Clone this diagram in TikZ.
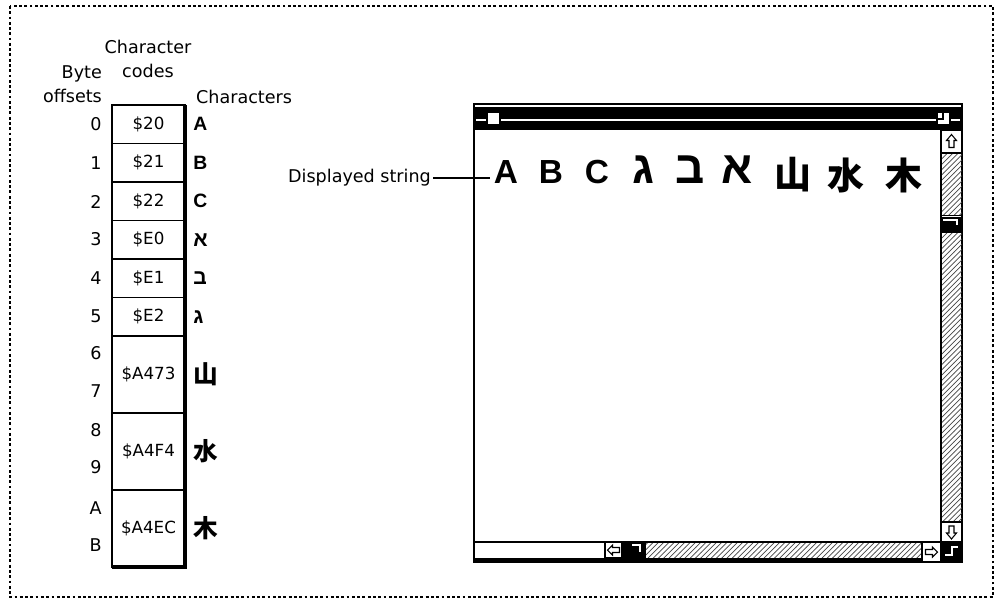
\documentclass[tikz,border=0pt]{standalone}
\usepackage{fontspec}
\setmainfont{DejaVu Sans}
\newfontfamily\bigfont{Liberation Sans}
\newfontfamily\hebfont[Script=Hebrew]{Liberation Sans}
\newfontfamily\cjkfont{Noto Sans CJK TC}
\usetikzlibrary{patterns,positioning}
\tikzset{lab/.style={font=\fontsize{10}{13.6}\selectfont, inner sep=1pt}, codelab/.style={font=\fontsize{9.5}{10}\selectfont, inner sep=0pt}, offlab/.style={font=\fontsize{10}{11}\selectfont, anchor=east, inner sep=0pt}, glyph/.style={font=\bigfont\bfseries\fontsize{11}{12}\selectfont, anchor=west, inner sep=0pt}, shown/.style={font=\bigfont\bfseries\fontsize{19}{20}\selectfont, inner sep=0pt}, hatch/.style={pattern=north east lines, pattern color=gray!55!black}, winline/.style={line width=1.1pt}, boxline/.style={line width=0.7pt, fill=white}}

\begin{document}
\begin{tikzpicture}[x=0.02cm, y=-0.02cm]
\useasboundingbox (0,0) rectangle (995,600);
\draw[dashed, dash pattern=on 1.6pt off 1.4pt, line width=0.6pt] (10,6) rectangle (993,597);
% headers
\node[lab, align=center] (codehead) at (148,59) {Character\\codes};
\node[lab, align=right, anchor=east] (offhead) at (104,84) {Byte\\offsets};
\node[lab, anchor=west] (charhead) at (194,97) {Characters};
% character code table
\foreach \a/\b/\c/\g [count=\i] in {105/143.5/\$20/A, 143.5/182/\$21/B, 182/220.5/\$22/C, 220.5/259/\$E0/{\hebfont\fontsize{12}{12}\selectfont א}, 259/297.5/\$E1/{\hebfont\fontsize{12}{12}\selectfont ב}, 297.5/336/\$E2/{\hebfont\fontsize{12}{12}\selectfont ג}, 336/413/\$A473/{\cjkfont\fontsize{14}{14}\selectfont 山}, 413/490/\$A4F4/{\cjkfont\fontsize{14}{14}\selectfont 水}, 490/567/\$A4EC/{\cjkfont\fontsize{14}{14}\selectfont 木}}{
  \draw[winline] (112,\a) rectangle (185,\b);
  \node[codelab] (code\i) at (148.5,{(\a+\b)/2}) {\c};
  \node[glyph] (char\i) at (193,{(\a+\b)/2}) {\g};
}
\draw[line width=2pt] (185,105) -- (185,567) -- (112,567);
\foreach \o/\y in {0/124,1/163,2/202,3/239,4/278,5/316,6/353,7/391,8/430,9/467,A/508,B/545}
  \node[offlab] (off\o) at (102,\y) {\o};
% window
\draw[winline, fill=white] (474,104) rectangle (962,562);
\fill (474,107) rectangle (962,130);
\draw[white, line width=1pt] (476,120) -- (960,120);
\draw[boxline] (487,112) rectangle (500,125);
\draw[boxline] (937,112) rectangle (950,125); \draw[line width=0.6pt] (937,119) -- (943,119) -- (943,112);
% vertical scroll bar
\draw[boxline] (941,130) rectangle (962,542);
\draw[boxline] (941,130) rectangle (962,153);
\draw[hatch] (941,153) rectangle (962,215);
\fill (941,217) rectangle (962,232); \draw[white, line width=0.7pt] (943,220) -- (957,220) -- (957,225);
\draw[hatch] (941,232) rectangle (962,522);
\draw[boxline] (941,522) rectangle (962,542);
\draw[line width=0.6pt, shift={(951.5,141.5)}] (0,-7) -- (5,-1) -- (2.5,-1) -- (2.5,6) -- (-2.5,6) -- (-2.5,-1) -- (-5,-1) -- cycle;
\draw[line width=0.6pt, shift={(951.5,532)}] (0,7) -- (5,1) -- (2.5,1) -- (2.5,-6) -- (-2.5,-6) -- (-2.5,1) -- (-5,1) -- cycle;
% horizontal scroll bar
\draw[winline] (474,542) -- (941,542);
\fill (474,558) rectangle (922,563);
\draw[boxline] (605,542) rectangle (622,558);
\fill (622,542) rectangle (645,558); \draw[white, line width=0.7pt] (632,545) -- (640,545) -- (640,552);
\draw[hatch] (645,542) rectangle (922,558);
\draw[boxline] (922,542) rectangle (941,562);
\fill (941,542) rectangle (962,562); \draw[white, line width=0.7pt] (945,555) -- (952,555) -- (952,547) -- (958,547);
\draw[line width=0.6pt, shift={(613.5,550)}] (-6,0) -- (-1,-5) -- (-1,-2.5) -- (6,-2.5) -- (6,2.5) -- (-1,2.5) -- (-1,5) -- cycle;
\draw[line width=0.6pt, shift={(931.5,552)}] (6,0) -- (1,-5) -- (1,-2.5) -- (-6,-2.5) -- (-6,2.5) -- (1,2.5) -- (1,5) -- cycle;
% displayed string
\node[lab, anchor=east] (disp) at (433,178) {Displayed string};
\coordinate (strstart) at (490,178);
\draw[line width=0.8pt] (disp) -- (strstart);
\foreach \x/\g [count=\i] in {506/A, 551/B, 597/C, 643/{\hebfont\fontsize{26}{26}\selectfont ג}, 690/{\hebfont\fontsize{26}{26}\selectfont ב}, 737/{\hebfont\fontsize{26}{26}\selectfont א}}
  \node[shown, anchor=base] (str\i) at (\x,183) {\g};
\foreach \x/\g [count=\i from 7] in {793/山, 846/水, 904/木}
  \node[shown, font=\cjkfont\bfseries\fontsize{21}{21}\selectfont] (str\i) at (\x,175) {\g};
\end{tikzpicture}
\end{document}
